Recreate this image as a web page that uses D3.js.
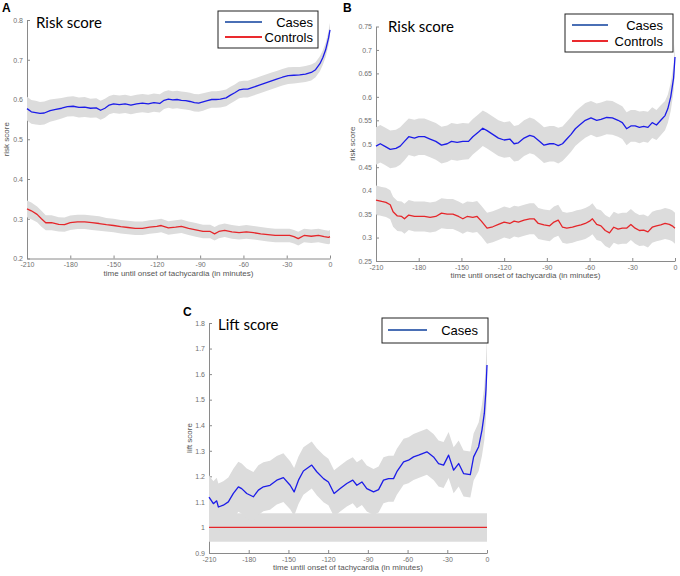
<!DOCTYPE html>
<html><head><meta charset="utf-8">
<script src="https://cdn.jsdelivr.net/npm/d3@7"></script>
<style>body{margin:0;background:#fff}svg{display:block}</style>
</head><body><svg id="c" width="680" height="576"></svg>
<script>
const xTicks = [-210, -180, -150, -120, -90, -60, -30, 0];
const aYTicks = [0.2, 0.3, 0.4, 0.5, 0.6, 0.7, 0.8];
const bYTicks = [0.25, 0.3, 0.35, 0.4, 0.45, 0.5, 0.55, 0.6, 0.65, 0.7, 0.75];
const cYTicks = [0.9, 1, 1.1, 1.2, 1.3, 1.4, 1.5, 1.6, 1.7, 1.8];
const xLabel = "time until onset of tachycardia (in minutes)";

// Panel A – cases
const aCasesT = [-210,-207,-204,-201,-198,-194,-190,-186,-182,-178,-174,-170,-166,-162,-159,-156,-153,-150,-146,-142,-138,-134,-130,-126,-122,-118,-115,-112,-109,-106,-103,-100,-97,-94,-91,-88,-85,-82,-79,-76,-72,-69,-66,-63,-60,-57,-53,-49,-45,-41,-37,-33,-29,-25,-21,-17,-13,-10,-7,-5,-3,-1,0];
const aCasesV = [.577,.569,.567,.565,.566,.572,.575,.578,.582,.583,.58,.581,.578,.579,.573,.578,.586,.589,.587,.589,.586,.589,.591,.589,.592,.59,.598,.601,.599,.6,.598,.597,.595,.592,.591,.594,.597,.6,.6,.601,.604,.611,.617,.624,.626,.626,.631,.636,.641,.646,.651,.656,.66,.661,.662,.664,.668,.675,.69,.705,.725,.755,.775];
const aCasesCI = [.03,.03,.03,.029,.029,.028,.027,.026,.025,.025,.025,.025,.024,.024,.024,.024,.023,.023,.023,.023,.023,.023,.023,.023,.023,.023,.022,.022,.022,.022,.022,.022,.022,.022,.022,.022,.021,.021,.021,.021,.021,.021,.021,.021,.021,.021,.021,.021,.021,.021,.021,.021,.021,.021,.02,.02,.02,.019,.019,.018,.018,.018,.018];
// Panel A – controls
const aCtrlT = [-210,-207,-203,-200,-197,-193,-188,-184,-180,-175,-170,-165,-160,-155,-150,-145,-140,-135,-130,-125,-120,-117,-112,-107,-103,-98,-93,-88,-83,-80,-77,-73,-68,-63,-58,-53,-48,-43,-38,-33,-28,-25,-22,-18,-13,-8,-4,-1,0];
const aCtrlV = [.325,.32,.311,.3,.29,.29,.286,.285,.29,.292,.292,.29,.288,.285,.283,.28,.278,.276,.276,.279,.281,.283,.277,.279,.281,.276,.272,.268,.268,.262,.268,.271,.267,.265,.267,.265,.262,.26,.258,.258,.258,.255,.25,.258,.256,.258,.255,.253,.255];
const aCtrlCI = [.021,.021,.02,.02,.019,.019,.018,.018,.018,.018,.018,.018,.018,.017,.017,.017,.017,.017,.017,.017,.017,.017,.017,.017,.017,.017,.017,.017,.017,.017,.017,.017,.017,.017,.017,.017,.017,.017,.017,.017,.017,.017,.017,.017,.017,.017,.017,.017,.017];

// Panel B – cases
const bCasesT = [-210,-207,-204,-200,-196,-193,-190,-187,-183,-180,-176,-172,-168,-164,-160,-157,-153,-149,-145,-142,-138,-135,-132,-128,-124,-120,-116,-113,-110,-106,-102,-99,-95,-92,-88,-85,-82,-79,-76,-73,-70,-67,-63,-59,-55,-52,-48,-44,-40,-37,-34,-31,-28,-25,-22,-19,-16,-13,-10,-7,-5,-3,-1,0];
const bCasesV = [.495,.5,.495,.488,.49,.495,.505,.515,.512,.515,.515,.51,.505,.497,.5,.505,.503,.505,.505,.515,.525,.533,.528,.52,.512,.508,.51,.5,.502,.512,.518,.515,.505,.497,.5,.5,.496,.5,.51,.52,.532,.54,.55,.555,.55,.552,.556,.555,.55,.545,.532,.538,.538,.535,.537,.535,.545,.54,.55,.56,.575,.6,.64,.685];
const bCasesCI = [.04,.04,.04,.04,.04,.04,.04,.039,.039,.039,.039,.039,.039,.039,.039,.039,.039,.039,.038,.038,.038,.038,.038,.038,.038,.038,.038,.038,.038,.038,.038,.038,.038,.038,.038,.038,.038,.037,.037,.037,.037,.037,.037,.036,.036,.036,.036,.036,.035,.035,.035,.034,.034,.034,.033,.033,.033,.032,.032,.031,.03,.03,.029,.028];
// Panel B – controls
const bCtrlT = [-210,-206,-203,-200,-198,-195,-192,-190,-187,-183,-180,-176,-172,-168,-164,-160,-156,-152,-149,-146,-142,-139,-136,-132,-128,-124,-120,-116,-113,-110,-106,-102,-99,-96,-92,-88,-85,-82,-79,-76,-72,-69,-66,-63,-60,-58,-55,-52,-49,-46,-43,-40,-37,-34,-31,-28,-25,-22,-19,-16,-13,-10,-7,-4,-2,0];
const bCtrlV = [.38,.377,.375,.37,.355,.346,.345,.34,.348,.345,.345,.345,.343,.345,.352,.35,.35,.345,.34,.345,.343,.345,.335,.32,.323,.328,.333,.33,.335,.333,.337,.34,.34,.33,.327,.325,.333,.337,.322,.32,.322,.325,.327,.33,.335,.34,.328,.325,.315,.31,.322,.318,.32,.32,.328,.32,.315,.316,.312,.322,.325,.327,.33,.328,.325,.32];
const bCtrlCI = [.031,.031,.031,.031,.032,.032,.032,.032,.032,.032,.032,.032,.032,.032,.032,.032,.032,.032,.032,.032,.033,.033,.033,.033,.033,.033,.033,.033,.033,.033,.033,.033,.033,.033,.033,.033,.033,.033,.033,.033,.033,.033,.033,.033,.033,.033,.033,.033,.033,.033,.033,.033,.033,.033,.033,.033,.033,.033,.033,.033,.033,.033,.033,.033,.033,.033];

// Panel C – cases (lift)
const cCasesT = [-210,-206.7,-204.2,-202.9,-199.2,-195.4,-191.6,-187.8,-185.3,-181.5,-176.5,-172.7,-168.9,-163.9,-158.8,-153.8,-148.7,-145.7,-142.4,-138.7,-132.4,-128.6,-123.5,-119.8,-115.5,-110.9,-105.9,-101.4,-98.3,-94.5,-90.8,-85.7,-81.9,-78.2,-74.4,-70.6,-68.1,-63,-59.3,-55.5,-51.7,-45.4,-40.4,-36.6,-32.8,-29,-25.2,-21.4,-17.7,-12.6,-10.1,-6.3,-3.8,-2,-0.8,0];
const cCasesV = [1.119,1.093,1.104,1.08,1.087,1.1,1.133,1.159,1.152,1.133,1.12,1.146,1.159,1.165,1.185,1.195,1.165,1.139,1.185,1.221,1.244,1.218,1.191,1.178,1.133,1.152,1.172,1.185,1.165,1.178,1.152,1.139,1.148,1.185,1.191,1.191,1.218,1.257,1.263,1.276,1.283,1.296,1.276,1.25,1.244,1.283,1.224,1.25,1.211,1.207,1.276,1.316,1.381,1.447,1.538,1.636];
const cCasesCI = [.085,.088,.09,.092,.094,.095,.097,.098,.098,.098,.097,.097,.096,.096,.095,.095,.094,.094,.093,.093,.092,.092,.092,.091,.091,.09,.09,.09,.09,.09,.09,.09,.09,.09,.09,.09,.09,.09,.09,.09,.09,.09,.09,.09,.09,.09,.09,.09,.09,.09,.092,.095,.1,.105,.11,.115];
// Panel C – reference (controls) level
const cRefT = [-210, 0];
const cRefV = [1, 1];
const cRefCI = [0.056, 0.056];

const BLUE = "#1c1ce8", RED = "#e5262a", BAND = "#dcdcdc";
const LEG_BLUE = "#4a6fb5", LEG_RED = "#ea2a2e";

const svg = d3.select("#c");

function zip(T, V, C) { return T.map((t, i) => ({t, v: V[i], c: C[i]})); }

function panel(cfg) {
  const g = svg.append("g");
  const x = d3.scaleLinear().domain([-210, 0]).range([cfg.x0, cfg.x1]);
  const y = d3.scaleLinear().domain([cfg.yTicks[0], cfg.yTicks[cfg.yTicks.length - 1]]).range([cfg.yb, cfg.yt]);
  const fmt = d => String(+d.toFixed(2));

  const ax = g.append("g").attr("transform", `translate(0,${cfg.yb})`)
    .call(d3.axisBottom(x).tickValues(xTicks).tickFormat(fmt).tickSizeInner(-3).tickSizeOuter(0).tickPadding(4));
  const ay = g.append("g").attr("transform", `translate(${cfg.x0},0)`)
    .call(d3.axisLeft(y).tickValues(cfg.yTicks).tickFormat(fmt).tickSizeInner(-3).tickSizeOuter(0).tickPadding(4));
  [ax, ay].forEach(a => {
    a.select(".domain").attr("stroke", "#8a8a8a").attr("stroke-width", 1);
    a.selectAll(".tick line").attr("stroke", "#8a8a8a");
    a.selectAll(".tick text").attr("fill", "#6f6f6f").attr("font-size", 7).attr("font-family", "Liberation Sans, Arial, sans-serif");
  });

  const area = d3.area().x(d => x(d.t)).y0(d => y(d.v - d.c)).y1(d => y(d.v + d.c));
  const line = d3.line().x(d => x(d.t)).y(d => y(d.v));
  cfg.series.forEach(s => {
    g.append("path").datum(s.data).attr("d", area).attr("fill", BAND);
  });
  cfg.series.forEach(s => {
    g.append("path").datum(s.data).attr("d", line).attr("fill", "none")
      .attr("stroke", s.color).attr("stroke-width", 1.3).attr("stroke-linejoin", "round");
  });

  g.append("text").attr("x", (cfg.x0 + cfg.x1) / 2).attr("y", cfg.yb + 17)
    .attr("text-anchor", "middle").attr("font-size", 8).attr("fill", "#555")
    .attr("font-family", "Liberation Sans, Arial, sans-serif").text(xLabel);
  g.append("text").attr("transform", `translate(${cfg.ylx},${(cfg.yt + cfg.yb) / 2}) rotate(-90)`)
    .attr("text-anchor", "middle").attr("font-size", 8).attr("fill", "#555")
    .attr("font-family", "Liberation Sans, Arial, sans-serif").text(cfg.yLabel);

  g.append("text").attr("x", cfg.titleX).attr("y", cfg.titleY).attr("font-size", 15)
    .attr("font-family", "Lato, Open Sans, sans-serif").attr("fill", "#000").text(cfg.title);
  g.append("text").attr("x", cfg.letterX).attr("y", cfg.letterY).attr("font-size", 12)
    .attr("font-weight", "bold").attr("font-family", "Liberation Sans, Arial, sans-serif").text(cfg.letter);

  const L = cfg.legend;
  g.append("rect").attr("x", L.x).attr("y", L.y).attr("width", L.w).attr("height", L.h)
    .attr("fill", "#fff").attr("stroke", "#222").attr("stroke-width", 1);
  L.items.forEach((it, i) => {
    const yy = L.y + L.first + i * L.step;
    g.append("line").attr("x1", L.x + L.lx0).attr("x2", L.x + L.lx1).attr("y1", yy).attr("y2", yy)
      .attr("stroke", it.color).attr("stroke-width", 2);
    g.append("text").attr("x", L.x + L.w - L.pad).attr("y", yy + 4.5).attr("text-anchor", "end")
      .attr("font-size", 13).attr("font-family", "Liberation Sans, Arial, sans-serif").text(it.name);
  });
}

panel({
  x0: 27, x1: 330, yb: 258.5, yt: 20, yTicks: aYTicks, yLabel: "risk score", ylx: 9,
  title: "Risk score", titleX: 36, titleY: 28, letter: "A", letterX: 2, letterY: 12,
  series: [
    {data: zip(aCasesT, aCasesV, aCasesCI), color: BLUE},
    {data: zip(aCtrlT, aCtrlV, aCtrlCI), color: RED}
  ],
  legend: {x: 218, y: 11, w: 100, h: 37, first: 11, step: 15, lx0: 7, lx1: 44, pad: 5,
    items: [{name: "Cases", color: LEG_BLUE}, {name: "Controls", color: LEG_RED}]}
});

panel({
  x0: 376, x1: 675, yb: 261, yt: 26.5, yTicks: bYTicks, yLabel: "risk score", ylx: 355,
  title: "Risk score", titleX: 388, titleY: 32, letter: "B", letterX: 343, letterY: 12,
  series: [
    {data: zip(bCasesT, bCasesV, bCasesCI), color: BLUE},
    {data: zip(bCtrlT, bCtrlV, bCtrlCI), color: RED}
  ],
  legend: {x: 565, y: 14, w: 108, h: 38, first: 11, step: 16, lx0: 7, lx1: 43, pad: 10,
    items: [{name: "Cases", color: LEG_BLUE}, {name: "Controls", color: LEG_RED}]}
});

panel({
  x0: 209, x1: 487, yb: 553, yt: 323, yTicks: cYTicks, yLabel: "lift score", ylx: 192,
  title: "Lift score", titleX: 218, titleY: 330, letter: "C", letterX: 183, letterY: 316,
  series: [
    {data: zip(cRefT, cRefV, cRefCI), color: RED},
    {data: zip(cCasesT, cCasesV, cCasesCI), color: BLUE}
  ],
  legend: {x: 382, y: 318, w: 106, h: 25, first: 12, step: 0, lx0: 6, lx1: 45, pad: 10,
    items: [{name: "Cases", color: LEG_BLUE}]}
});
</script></body></html>
